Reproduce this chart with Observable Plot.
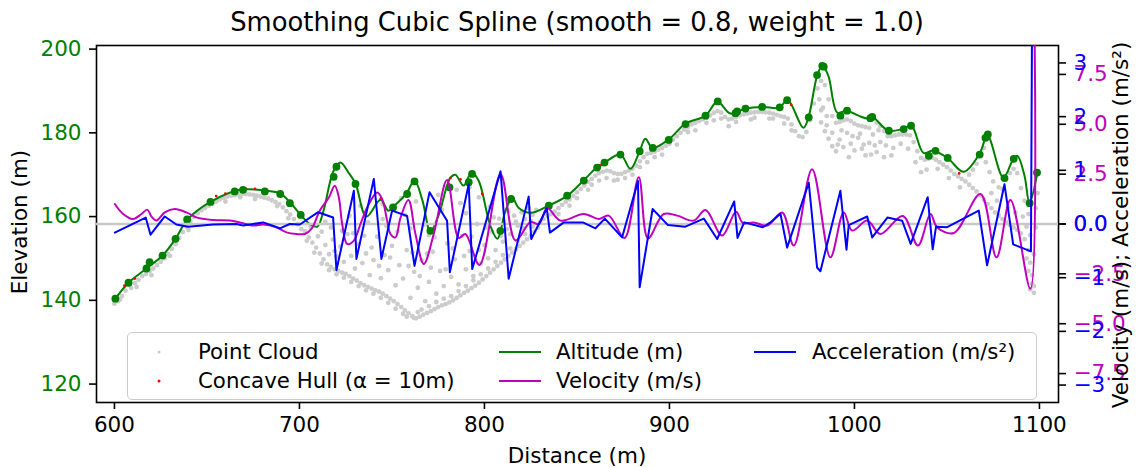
<!DOCTYPE html>
<html><head><meta charset="utf-8">
<script src="https://cdn.jsdelivr.net/npm/d3@7"></script>
<script src="https://cdn.jsdelivr.net/npm/@observablehq/plot@0.6"></script>
<style>
body{margin:0;background:#fff;}
#wrap{position:relative;width:1140px;height:468px;font-family:"DejaVu Sans",sans-serif;color:#000;overflow:hidden;}
#wrap svg{position:absolute;left:0;top:0;}
.lbl{position:absolute;font-size:21.5px;white-space:nowrap;line-height:1;}
.rot{transform:translate(-50%,-50%) rotate(-90deg);}
#title{position:absolute;left:577px;top:8px;transform:translateX(-50%);font-size:25.8px;white-space:nowrap;line-height:1.1;}
#legend{position:absolute;left:127px;top:332px;width:910px;height:68px;box-sizing:border-box;border:1.5px solid #cccccc;border-radius:5px;background:rgba(255,255,255,0.8);font-size:21.3px;z-index:5;}
#legend .it{position:absolute;line-height:1;white-space:nowrap;transform:translateY(-50%);}
#legend .ln{position:absolute;height:2px;transform:translateY(-50%);}
#legend .mk{position:absolute;border-radius:50%;transform:translate(-50%,-50%);}
</style></head>
<body>
<div id="wrap">
  <div id="title">Smoothing Cubic Spline (smooth = 0.8, weight = 1.0)</div>
</div>
<script>
// ---------- data ----------
const xTicks = [600, 700, 800, 900, 1000, 1100];
const elevTicks = [120, 140, 160, 180, 200];
const velTicks = [-7.5, -5, -2.5, 0, 2.5, 5, 7.5];
const accTicks = [-3, -2, -1, 0, 1, 2, 3];

// smoothed altitude (distance m, elevation m)
const altitude = [[600.5,140.4],[607.6,144.2],[617.3,147.6],[626.0,150.7],[633.0,154.7],[639.5,159.3],[651.9,163.5],[668.1,166.4],[681.6,166.2],[689.7,165.5],[695.1,163.3],[700.5,160.5],[706.0,158.1],[709.7,157.6],[713.0,161.4],[718.4,170.9],[722.2,172.9],[726.5,170.5],[730.3,167.9],[736.2,160.0],[743.8,164.0],[748.1,161.4],[750.8,162.4],[757.8,165.5],[762.2,168.6],[766.5,163.8],[770.8,156.4],[775.1,160.2],[781.6,169.3],[784.3,170.0],[788.7,167.4],[793.0,170.5],[796.8,168.6],[803.2,157.8],[807.0,154.7],[811.4,161.4],[815.1,164.5],[818.4,162.1],[824.9,160.9],[834.6,162.6],[844.9,165.0],[853.5,168.6],[861.1,171.9],[864.9,172.9],[873.5,174.8],[878.9,171.4],[883.8,175.5],[887.0,178.6],[890.8,176.4],[899.5,178.4],[908.7,182.2],[919.5,184.1],[925.9,187.4],[933.0,184.6],[941.1,185.8],[950.3,186.2],[959.5,186.0],[963.8,187.9],[972.4,181.2],[975.1,183.6],[980.0,193.9],[982.7,196.0],[985.9,193.6],[990.8,184.8],[995.7,185.3],[1002.2,184.1],[1007.0,183.4],[1009.7,183.8],[1018.4,180.5],[1026.5,181.0],[1030.8,181.7],[1037.3,175.2],[1042.2,175.7],[1050.3,174.0],[1059.0,170.7],[1067.6,175.0],[1071.9,179.3],[1080.5,169.3],[1085.9,173.8],[1088.1,174.5],[1091.9,169.8],[1094.6,163.3],[1098.9,170.5]];

// spline knots (green markers)
const knots = [[600.5,140.4],[607.6,144.2],[617.3,147.6],[619.0,149.1],[626.0,150.7],[633.0,154.7],[639.3,159.3],[651.9,163.5],[665.0,166.0],[669.5,166.4],[681.3,166.0],[689.6,165.4],[694.8,163.2],[700.7,160.4],[718.5,169.5],[720.0,171.9],[730.3,167.8],[750.6,162.2],[758.2,165.4],[762.2,168.4],[770.8,156.6],[781.1,167.0],[791.5,168.2],[793.3,170.2],[808.6,156.6],[814.4,164.2],[834.8,162.6],[844.7,165.0],[853.7,168.6],[860.9,171.7],[864.9,172.9],[873.5,174.8],[883.9,175.6],[891.0,176.4],[899.6,178.3],[908.7,182.1],[919.5,184.1],[926.1,187.5],[935.7,184.7],[936.6,185.1],[941.1,185.8],[950.1,186.2],[959.6,186.1],[963.6,187.8],[975.3,183.7],[979.8,193.8],[982.6,196.0],[983.4,195.8],[992.4,184.1],[996.0,185.3],[1008.6,183.5],[1009.6,183.8],[1018.6,180.5],[1026.6,180.9],[1030.6,181.7],[1040.2,174.5],[1043.8,175.7],[1050.4,174.0],[1067.7,174.8],[1070.8,178.8],[1072.1,179.6],[1081.1,169.2],[1086.1,173.8],[1094.7,163.2],[1098.7,170.5]];

// concave hull points (red)
const hull = [[605.4,143.5],[611.0,145.2],[655.0,164.9],[660.0,165.5],[671.0,166.7],[676.0,166.6],[744.0,164.3],[781.6,169.2],[787.0,168.9],[798.8,165.4],[862.7,172.2],[965.8,186.7],[1056.6,170.3]];

// raw point cloud (distance m, elevation m)
const cloud = [
[600,139.2],[602,139.8],[604,141.0],[606,142.3],[609,143.0],[611,144.1],[613,144.9],[615,145.8],[617,146.3],[619,147.0],[621,147.6],[623,148.4],[625,149.2],[627,150.0],[629,151.0],[631,152.3],[633,153.4],[635,154.9],[637,156.3],[639,157.6],[641,158.9],[643,159.9],[645,160.8],[647,161.5],[649,162.1],[651,162.6],[653,163.1],[655,163.6],[657,164.1],[659,164.5],[661,164.8],[663,165.0],[665,165.1],[667,165.3],[669,165.4],[671,165.4],[673,165.3],[675,165.2],[677,165.0],[679,164.8],[681,164.5],[683,164.3],[685,163.9],[687,163.5],[689,163.0],[691,162.2],[693,161.3],[695,160.5],[697,159.4],[699,158.2],[701,157.0],
[612,143.2],[620,146.0],[630,150.6],[660,163.6],[676,164.2],[688,162.5],[603,140.2],[640,156.8],[668,164.6],[694,159.6],
[703,156.5],[705,155.0],[707,153.8],[709,152.6],[711,151.2],[713,149.8],[715,148.6],[717,148.0],[719,147.4],[721,147.0],[723,146.6],[725,146.3],[727,145.8],[729,145.2],[731,144.7],[733,144.1],[735,143.6],[737,143.2],[739,142.8],[741,142.4],[743,142.1],[745,141.6],[747,141.0],[749,140.4],[751,139.8],[753,139.1],[755,138.4],[757,137.6],[759,136.9],[761,136.2],[763,135.7],[765,136.1],[767,136.6],[769,137.0],[771,137.4],[773,137.9],[775,138.4],[777,138.8],[779,139.1],[781,139.5],[783,140.0],[785,140.6],[787,141.2],[789,141.8],[791,142.3],[793,142.9],[795,143.5],[797,144.2],[799,145.0],[801,145.8],[803,146.6],[805,147.4],[807,148.2],[809,149.0],[811,149.8],[813,150.6],[815,151.4],[817,152.2],[819,153.0],[821,153.8],[823,154.6],[825,155.4],[827,156.4],[829,157.4],
[704,154.2],[708,151.4],[712,148.8],[716,147.2],[720,146.2],[724,145.4],[728,144.4],[732,143.4],[736,142.4],[740,141.6],[744,140.6],[748,139.4],[752,138.0],[756,136.8],[758,136.1],[762,135.8],[764,137.2],[766,137.8],[770,138.6],[774,139.6],[778,140.4],[782,141.0],[786,142.2],[790,143.4],[794,144.8],[798,146.2],[802,147.6],[806,149.2],[810,150.8],[814,152.4],[818,154.2],[822,155.8],[826,157.6],
[710,155.3],[714,153.2],[716,151.0],[718,154.5],[720,150.5],[722,152.8],[724,149.2],[726,155.8],[728,150.6],[730,147.6],[732,153.4],[734,148.9],[736,151.2],[738,146.0],[740,149.6],[742,155.2],[744,145.3],[746,150.8],[748,147.2],[750,153.0],[752,143.6],[754,148.4],[756,145.2],[758,152.0],[760,140.6],[762,146.8],[764,143.0],[766,149.6],[768,139.8],[770,144.4],[772,151.6],[774,141.6],[776,147.0],[778,143.4],[780,153.6],[782,145.6],[784,149.8],[786,143.8],[788,155.4],[790,147.4],[792,151.8],[794,145.8],[796,158.2],[798,148.8],[800,153.2],[802,150.0],[804,156.4],[806,152.0],[808,159.5],[810,154.0],[812,157.0],[814,155.8],[816,160.2],[818,157.8],[820,161.0],[822,159.4],[824,162.0],[826,160.4],[828,161.6],[717,157.4],[727,160.2],[737,158.6],[747,157.8],[757,160.4],[767,158.0],[777,161.6],[787,163.2],[797,164.6],[733,162.6],[745,163.0],[755,164.4],[763,163.6],[775,165.2],[785,166.4],[792,167.0],[803,162.4],[745,159.4],[712,156.4],[770,155.6],[790,160.8],[760,157.2],
[706,157.6],[714,158.8],[719,151.8],[723,156.6],[729,156.0],[735,155.4],[739,152.6],[743,148.2],[749,150.2],[753,156.4],[759,148.2],[761,151.4],[765,145.8],[769,151.2],[771,147.8],[773,155.0],[779,147.4],[783,152.4],[789,150.6],[793,155.2],[797,152.0],[801,157.4],[805,159.8],[809,155.4],[813,161.2],[817,158.8],[821,157.2],[825,159.0],
[830,158.6],[832,159.4],[834,160.2],[836,160.6],[838,161.2],[840,162.0],[842,162.8],[844,163.5],[846,164.1],[848,165.0],[850,165.8],[852,166.6],[854,167.4],[856,168.3],[858,169.0],[860,169.8],[862,170.4],[864,170.7],[866,171.0],[868,170.8],[870,170.4],[872,170.2],[874,170.2],[876,170.6],[878,171.0],[880,171.4],[882,172.2],[884,173.2],[886,174.2],[888,175.0],[890,175.2],[892,175.5],[894,176.0],[896,176.4],[898,176.9],[900,177.4],[840,160.6],[850,164.4],[858,167.6],[866,169.2],[872,168.8],[876,169.2],[884,171.8],[892,174.2],
[846,162.6],[856,166.4],[862,168.6],[870,168.6],[880,170.0],[888,173.0],[896,174.8],[904,177.2],[914,180.6],[924,183.0],[932,181.6],[944,183.2],[954,183.4],[962,182.2],
[902,178.4],[904,179.2],[906,180.0],[908,180.8],[910,181.4],[912,182.0],[914,182.4],[916,182.8],[918,183.2],[920,183.6],[922,184.2],[924,184.8],[926,185.2],[928,184.8],[930,183.8],[932,183.2],[934,183.4],[936,183.8],[938,184.2],[940,184.4],[942,184.6],[944,184.8],[946,184.9],[948,185.0],[950,185.0],[952,184.9],[954,184.8],[956,184.6],[958,184.3],[960,184.0],[962,183.8],[964,183.4],[966,182.0],[968,180.4],[970,179.2],[972,179.0],[974,180.2],[976,183.0],[978,187.0],[980,190.6],[982,192.4],[984,191.4],[986,188.0],[988,184.0],[990,182.4],[992,182.6],[994,183.0],[996,183.2],[998,182.8],[1000,182.2],[1002,181.8],[1004,181.6],[1006,181.4],[1008,181.2],
[910,180.2],[920,182.4],[928,183.4],[936,182.6],[946,183.6],[956,183.4],[966,180.6],[981,188.0],[983,186.0],[985,184.0],
[982,182.5],[984,180.4],[986,178.6],[988,176.8],[990,175.6],[992,178.4],[994,176.6],[996,180.0],[998,177.4],[1000,175.8],[1002,178.8],[1004,176.2],[1006,174.6],[1008,177.6],[1010,179.6],[1012,175.4],[1014,177.8],[1016,174.2],[982,185.4],[988,180.0],[991,177.2],[997,174.2],[1003,179.8],[1009,174.8],[1013,180.6],[985,181.8],[993,180.6],[999,179.2],[1005,177.2],[1011,177.0],
[1012,182.4],[1014,181.6],[1016,180.4],[1018,179.2],[1020,179.2],[1022,179.4],[1024,179.6],[1026,179.6],[1028,179.6],[1030,179.4],[1032,177.8],[1034,175.6],[1036,174.0],[1038,173.6],[1040,173.8],[1042,174.0],[1044,173.6],[1046,173.0],[1048,172.4],[1050,171.8],[1052,171.0],[1054,170.2],[1056,169.6],[1058,169.0],[1060,168.4],[1062,167.6],[1064,166.8],[1066,166.0],[1068,165.0],[1070,164.0],[1072,163.0],[1074,162.0],[1076,161.0],[1078,160.2],[1080,159.4],[1082,158.6],[1084,158.0],[1086,157.4],[1088,156.8],[1090,156.0],[1092,154.6],[1094,152.0],[1095,149.0],[1096,146.0],[1097,143.4],[1095,155.6],[1097,151.0],[1098,157.4],[1098,162.0],[1099,165.6],
[1066,172.6],[1068,174.6],[1070,176.4],[1071,173.0],[1073,170.6],[1075,168.4],[1078,167.0],[1080,166.6],[1082,168.8],[1084,170.4],[1086,171.4],[1088,170.4],[1090,166.8],[1092,163.8],[1094,160.6],[1062,170.0],[1064,171.2],[1074,165.6],[1077,163.8],[1083,162.2],[1087,161.0],[1091,160.0],[1093,157.6],[1017,177.0],[1021,176.4],[1025,177.4],[1029,176.2],[1033,173.0],[1039,171.2],[1045,171.4],[1051,169.2],[1057,167.0],[1020,174.6],[1036,170.6],[1093,150.0],[1094,147.0],[1096,144.0],[1097,141.8],[1095,142.6]
];

// velocity (distance m, m/s)
const velocity = [[600.2,1.0],[604.7,0.5],[610.1,0.25],[614.6,0.5],[617.7,0.72],[620.0,0.37],[622.7,0.17],[627.2,0.58],[632.6,0.75],[638.9,0.58],[644.3,0.33],[653.3,0.2],[662.3,0.17],[667.7,0.08],[675.0,-0.08],[680.4,-0.03],[687.6,-0.17],[693.0,-0.42],[698.4,-0.5],[702.9,-0.5],[706.5,-0.25],[711.0,0.67],[715.9,1.33],[719.1,1.92],[721.3,1.33],[723.1,0.0],[725.8,-1.0],[729.4,-0.83],[733.0,0.0],[736.6,0.83],[742.0,1.58],[744.7,1.25],[747.4,0.17],[749.2,-0.5],[751.9,-0.67],[754.6,0.3],[758.9,1.2],[762.7,-0.5],[767.2,-2.0],[772.6,-0.5],[779.8,2.2],[786.1,-0.7],[789.7,-0.5],[797.3,-2.05],[808.7,2.5],[816.8,-0.83],[824.9,0.1],[829.4,0.0],[833.9,0.8],[841.1,0.17],[853.7,0.5],[861.8,0.25],[867.2,0.42],[875.7,-0.7],[883.4,2.35],[888.4,-0.72],[896.9,0.5],[904.2,0.42],[913.1,0.17],[919.5,0.7],[928.5,-0.58],[936.0,0.62],[939.7,0.05],[945.6,0.08],[952.8,-0.08],[960.9,0.58],[967.2,-1.08],[977.1,2.75],[987.0,-1.67],[994.2,0.58],[998.8,-0.33],[1006.9,0.17],[1014.0,-0.5],[1026.2,0.4],[1034.3,-1.08],[1041.1,0.5],[1044.7,-0.17],[1053.7,-0.45],[1068.1,1.5],[1076.8,-1.67],[1084.3,1.2],[1095.1,-3.25],[1097.3,10.0]];

// acceleration (distance m, m/s²)
const acceleration = [[600.2,-0.16],[616.9,0.12],[619.5,-0.2],[627.2,0.14],[633.5,-0.01],[639.8,-0.05],[653.3,-0.01],[665.9,0.0],[669.6,-0.03],[680.4,0.03],[689.4,-0.08],[694.8,0.0],[700.2,-0.01],[710.1,0.22],[718.2,0.12],[720.0,-0.86],[729.4,0.62],[730.8,-0.65],[740.2,0.84],[744.3,-0.65],[750.1,0.25],[758.2,0.15],[762.2,-0.78],[770.3,0.59],[779.8,0.06],[781.3,-0.9],[791.5,0.74],[793.4,-0.84],[808.7,0.98],[813.1,-1.02],[823.9,0.51],[825.3,-0.28],[833.7,0.29],[835.4,-0.16],[842.9,0.03],[853.2,0.03],[860.0,-0.08],[865.1,0.1],[874.4,-0.25],[883.0,0.8],[883.9,-1.18],[890.9,0.28],[899.2,-0.02],[908.6,-0.05],[918.6,0.1],[925.8,-0.28],[935.0,0.42],[936.8,-0.26],[940.4,0.03],[950.5,-0.06],[954.6,0.03],[960.0,0.19],[963.6,-0.44],[975.3,0.77],[979.8,-0.81],[981.6,-0.88],[992.4,0.62],[995.7,-0.48],[996.9,-0.02],[1006.9,0.14],[1009.6,-0.25],[1017.8,0.12],[1025.8,0.06],[1030.4,-0.37],[1039.6,0.5],[1042.3,-0.47],[1044.1,-0.05],[1050.1,-0.06],[1067.2,0.25],[1071.7,-0.77],[1081.1,0.74],[1085.8,-0.38],[1095.4,-0.51],[1096.3,6.0]];

// ---------- layout ----------
const W = 1140, H = 468;
const M = {marginLeft: 96, marginRight: 82, marginTop: 45, marginBottom: 66};
const xDomain = [590.3, 1110.3];
const FONT = {fontFamily: "DejaVu Sans", fontSize: "21.5px", background: "transparent", overflow: "visible"};
const minus = s => s.replace("-", "\u2212");
const wrap = document.getElementById("wrap");

const elevPlot = Plot.plot({
  width: W, height: H, ...M, style: FONT,
  x: {domain: xDomain},
  y: {domain: [115.6, 200.86]},
  marks: [
    Plot.dot(cloud, {x: d => d[0], y: d => d[1], r: 2.4, fill: "#cccccc", stroke: null}),
    Plot.line(altitude, {x: d => d[0], y: d => d[1], stroke: "green", strokeWidth: 2, curve: "catmull-rom", clip: true}),
    Plot.dot(hull, {x: d => d[0], y: d => d[1], r: 1.4, fill: "red", stroke: null}),
    Plot.dot(knots, {x: d => d[0], y: d => d[1], r: 3.9, fill: "green", stroke: null}),
    Plot.axisX({ticks: xTicks, tickFormat: d => String(d), tickSize: 7, tickPadding: 7, strokeWidth: 1.6, stroke: "black", fill: "black", label: null}),
    Plot.axisY({ticks: elevTicks, tickFormat: d => String(d), tickSize: 7, tickPadding: 8, strokeWidth: 1.6, stroke: "black", fill: "green", label: null}),
    Plot.frame({stroke: "black", strokeWidth: 1.6})
  ]
});
wrap.appendChild(elevPlot);

const velPlot = Plot.plot({
  width: W, height: H, ...M, style: FONT,
  x: {domain: xDomain, axis: null},
  y: {domain: [-8.95, 8.95]},
  marks: [
    Plot.ruleY([0], {stroke: "#c8c8c8", strokeWidth: 2.5}),
    Plot.line(velocity, {x: d => d[0], y: d => d[1], stroke: "#bf00bf", strokeWidth: 2, curve: "catmull-rom", clip: true}),
    Plot.axisY({anchor: "right", ticks: velTicks, tickFormat: d => minus(d.toFixed(1)), tickSize: 7, tickPadding: 8, strokeWidth: 1.6, stroke: "black", fill: "#bf00bf", label: null})
  ]
});
wrap.appendChild(velPlot);

const accPlot = Plot.plot({
  width: W, height: H, ...M, style: FONT,
  x: {domain: xDomain, axis: null},
  y: {domain: [-3.325, 3.325]},
  marks: [
    Plot.line(acceleration, {x: d => d[0], y: d => d[1], stroke: "blue", strokeWidth: 2, clip: true}),
    Plot.axisY({anchor: "right", ticks: accTicks, tickFormat: d => d === 0 ? "0.0" : minus(String(d)), tickSize: 7, tickPadding: 8, strokeWidth: 1.6, stroke: "black", fill: "blue", label: null})
  ]
});
wrap.appendChild(accPlot);

// axis titles
function addLabel(text, x, y, rotate) {
  const el = document.createElement("div");
  el.className = "lbl" + (rotate ? " rot" : "");
  el.textContent = text;
  el.style.left = x + "px"; el.style.top = y + "px";
  if (!rotate) el.style.transform = "translate(-50%,-50%)";
  wrap.appendChild(el);
}
addLabel("Distance (m)", 577, 456, false);
addLabel("Elevation (m)", 20, 222, true);
addLabel("Velocity (m/s); Acceleration (m/s\u00b2)", 1121, 225, true);

// legend
const legendItems = [
  {label: "Point Cloud", kind: "dot", color: "#cccccc", size: 3, col: 0, row: 0},
  {label: "Concave Hull (\u03b1 = 10m)", kind: "dot", color: "red", size: 3, col: 0, row: 1},
  {label: "Altitude (m)", kind: "line", color: "green", col: 1, row: 0},
  {label: "Velocity (m/s)", kind: "line", color: "#bf00bf", col: 1, row: 1},
  {label: "Acceleration (m/s\u00b2)", kind: "line", color: "blue", col: 2, row: 0}
];
const legend = document.createElement("div");
legend.id = "legend";
const colX = [{mark: 31, text: 70}, {mark: 371, text: 428}, {mark: 626, text: 684}];
const rowY = [19, 48];
for (const it of legendItems) {
  const c = colX[it.col], yv = rowY[it.row];
  const m = document.createElement("div");
  if (it.kind === "dot") {
    m.className = "mk";
    m.style.left = c.mark + "px"; m.style.top = yv + "px";
    m.style.width = it.size + "px"; m.style.height = it.size + "px";
    m.style.background = it.color;
  } else {
    m.className = "ln";
    m.style.left = c.mark + "px"; m.style.top = yv + "px";
    m.style.width = "42px"; m.style.background = it.color;
  }
  legend.appendChild(m);
  const t = document.createElement("div");
  t.className = "it";
  t.style.left = c.text + "px"; t.style.top = yv + "px";
  t.textContent = it.label;
  legend.appendChild(t);
}
wrap.appendChild(legend);
</script>
</body></html>
